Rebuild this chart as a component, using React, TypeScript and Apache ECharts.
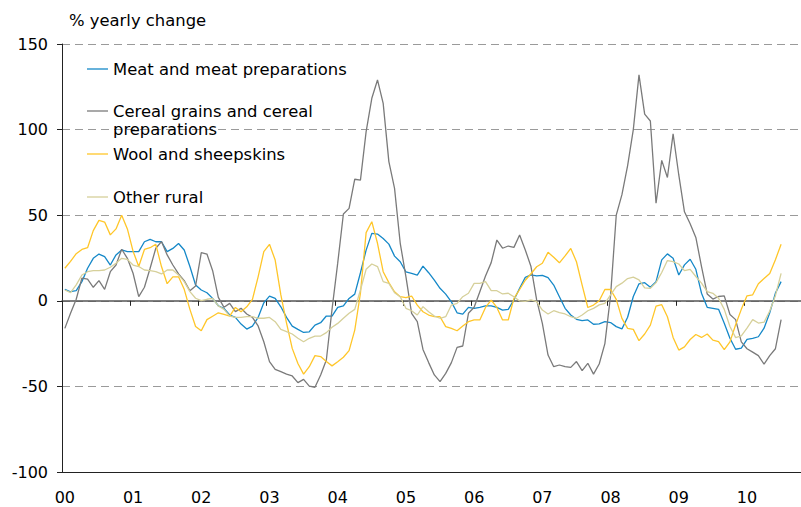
import React, { useEffect, useRef } from "react";
import * as echarts from "echarts";

// Monthly observations, Jan 2000 .. Jul 2010 (% yearly change)
const meat = [
  6.7, 5.3, 5.9, 11.2, 19, 24.8, 27.3, 25.8, 20.9, 26.8, 29.7, 28.7,
  28.7, 28.7, 34.5, 35.9, 34.5, 34.5, 28.7, 30.6, 33.5, 29.7, 20, 9.2,
  6.3, 4.7, 1.4, -2.9, -4.5, -8.3, -9.7, -13.6, -16.5, -14.8, -9.7, -1.2,
  2.7, 1.4, -3.5, -9.7, -14.8, -16.7, -18.5, -18.1, -14.2, -12.8, -8.9, -9,
  -3.8, -3.0, 1.4, 3.9, 16.4, 29.6, 39.4, 39.0, 36.4, 33.1, 26.1, 22.8,
  16.9, 16.0, 15.0, 20.3, 16.4, 12.1, 7.3, 3.9, -0.6, -7.0, -7.8, -3.8,
  -4.4, -3.8, -3.0, -3.0, -3.8, -5.4, -5.0, 0.5, 7.3, 13.7, 15.1, 14.5,
  14.9, 13.5, 9.2, 2.4, -4.4, -8.3, -10.8, -11.6, -11.2, -13.7, -13.5, -12.2,
  -12.7, -15.1, -16.4, -9.6, 2.5, 9.9, 10.6, 7.9, 11.2, 23.9, 27.4, 24.9,
  15.1, 21, 24.3, 18.4, 4.4, -3.8, -4.4, -5.0, -13.1, -21.9, -28.3, -27.7,
  -22.5, -22, -21, -16, -7, 4.5, 11.2,
];

const cereal = [
  -16.1, -7.3, 0.9, 13.2, 12.6, 7.9, 11.8, 6.7, 17, 20.9, 30.1, 24.8,
  16.1, 2.4, 7.9, 19, 30.7, 34.6, 26.8, 20.9, 15.7, 11.8, 5.9, 8.7,
  28.1, 27.3, 17.6, 2.0, -3.8, -1.5, -6.3, -4.4, -7.7, -9.7, -14.7, -23.9,
  -35.5, -40, -41.4, -42.8, -43.9, -47.8, -45.9, -49.8, -50.5, -43.3, -34.6, -5,
  22, 50.7, 54, 71, 70.5, 98.8, 118.3, 129, 115.3, 81.3, 65.7, 33.6,
  14.1, -7.3, -12.2, -28.4, -36.1, -43.3, -47.2, -42.4, -36.1, -27.2, -26.4, -7.3,
  -3.8, 5.3, 14.5, 22.3, 35.5, 30.7, 32, 31.2, 38.4, 29.7, 20, 0.5,
  -13.2, -31.7, -38.5, -37.5, -38.5, -38.9, -35.5, -40.8, -36.5, -42.8, -36.9, -25,
  3, 50, 62, 79, 100, 132, 109, 105, 57, 82, 72, 97.5,
  73.5, 52, 45, 37, 20, 4, 1, 2.5, 2.9, -8, -11, -24,
  -28, -30, -32, -37, -32, -28, -11,
];

const wool = [
  19, 23, 27.5, 30, 31, 41, 47, 46, 38.5, 42, 50, 42,
  29, 20, 30, 31, 33, 20, 10, 14, 14, 6.7, -5, -15,
  -17.5, -11, -9, -7, -8, -9, -3.9, -6.4, -3.5, 0.8, 14, 28.7,
  33, 23.8, 3.4, -13, -27.8, -36.6, -42.8, -38.5, -32, -32.6, -35.5, -38,
  -35.6, -33, -29.1, -17.1, 4.4, 39.8, 46.2, 33.6, 17, 10.6, 5.3, 2.4,
  1.8, 2.8, -2.5, -6.4, -8.3, -9.3, -9.3, -15.1, -16.1, -17.5, -14.7, -12.2,
  -11.2, -11.2, -3.9, 0.4, -3.9, -11.2, -11.2, 1.4, 6.6, 12, 15.8, 19.9,
  21.9, 28.3, 25.4, 22.2, 26.2, 30.6, 22.8, 9.2, -3.9, -2.5, 0, 6.6,
  6.6, 0.8, -10.3, -16.1, -16.7, -23.3, -19.4, -14.2, -3.1, -2.3, -9.3, -21.4,
  -28.8, -26.9, -22.6, -19.7, -21.4, -19.4, -23, -23.9, -28.5, -24, -14, -5,
  2.9, 3.5, 10, 13, 16, 24, 33,
];

const otherRural = [
  6.3, 4.8, 9.3, 15.1, 17, 17.6, 17.6, 18, 19.6, 21.9, 24.8, 24.2,
  20.9, 20, 18, 17.6, 17, 15.7, 18, 18, 15.1, 11.2, 5.4, 1.5,
  0.1, 0.9, 1.4, -3.0, -5.0, -8.9, -9.7, -9.7, -9.3, -9.3, -10.2, -10.2,
  -9.7, -12.2, -16.7, -18, -19.4, -21.9, -23.9, -21.9, -20.6, -20.6, -18.6, -15.5,
  -13.2, -10.2, -7.3, -5.0, 6.3, 18.4, 21.5, 20, 11.2, 10.2, 4.7, 2.4,
  -4.4, -5.8, -8.3, -3.4, -6.4, -8.9, -10.2, -9.3, -2.5, -1.5, 2.4, 4.4,
  10.2, 10.2, 11.2, 5.9, 5.9, 4.0, 4.4, 2.4, -0.1, -0.3, 0.5, -0.5,
  -5.4, -7.7, -5.8, -6.9, -7.7, -9.3, -10.2, -8.3, -5.8, -4.4, -2.4, -1.5,
  3.4, 8.3, 10.3, 13, 13.8, 12.2, 7.5, 7.3, 10.6, 16.5, 23.5, 22.9,
  21.5, 17.6, 18.4, 14.2, 10.3, 5.4, 4.4, 1.5, -5, -15, -21.5, -20.5,
  -16, -11, -13, -12.5, -6, 3, 16,
];

// axis: Jan 2000 .. Oct 2010 (monthly categories), labels every January
const startYear = 2000;
const monthCount = 130;
const months = Array.from({ length: monthCount }, (_, i) => {
  const y = startYear + Math.floor(i / 12);
  const m = (i % 12) + 1;
  return `${y}-${m < 10 ? "0" + m : m}`;
});

const seriesNames = [
  "Meat and meat preparations",
  "Cereal grains and cereal\npreparations",
  "Wool and sheepskins",
  "Other rural",
];
const seriesColors = ["#1588c8", "#7a7a7a", "#ffc629", "#d6d09a"];
const yTicks = { min: -100, max: 150, interval: 50 };

const FONT = "DejaVu Sans";

export default function App() {
  const ref = useRef<HTMLDivElement>(null);

  useEffect(() => {
    if (!ref.current) return;
    const chart = echarts.init(ref.current, null, { renderer: "svg" });
    const allData = [meat, cereal, wool, otherRural];
    const legendTops = [69, 111, 154, 197];

    const graphics: any[] = [];
    seriesNames.forEach((name, k) => {
      graphics.push({
        type: "line",
        shape: { x1: 87, y1: legendTops[k], x2: 108, y2: legendTops[k] },
        style: { stroke: seriesColors[k], lineWidth: 1.3 },
        z: 10,
      });
      graphics.push({
        type: "text",
        x: 113,
        y: legendTops[k] - 9,
        style: {
          text: name,
          font: `16.4px "${FONT}"`,
          fill: "#000",
          lineHeight: 18,
          textVerticalAlign: "top",
        },
        z: 10,
      });
    });

    chart.setOption({
      animation: false,
      textStyle: { fontFamily: FONT },
      title: {
        text: "% yearly change",
        left: 69,
        top: 12,
        padding: 0,
        textStyle: { fontSize: 16.4, fontWeight: "normal", color: "#000", fontFamily: FONT },
      },
      grid: { left: 62, right: 0, top: 44, bottom: 35, containLabel: false },
      xAxis: [
        {
          type: "category",
          data: months,
          boundaryGap: true,
          position: "bottom",
          axisLine: { onZero: false, lineStyle: { color: "#222", width: 1 } },
          axisTick: { show: false },
          axisLabel: {
            interval: (i: number) => i % 12 === 0,
            formatter: (v: string) => v.slice(2, 4),
            color: "#000",
            fontSize: 16,
            margin: 17,
            fontFamily: FONT,
          },
          splitLine: { show: false },
        },
        {
          type: "category",
          data: months,
          boundaryGap: true,
          position: "top",
          axisLine: { onZero: true, onZeroAxisIndex: 0, lineStyle: { color: "#555", width: 1.6 } },
          axisTick: {
            show: true,
            inside: true,
            length: 5,
            interval: (i: number) => i % 12 === 0,
            lineStyle: { color: "#222", width: 1 },
          },
          axisLabel: { show: false },
          splitLine: { show: false },
        },
      ],
      yAxis: {
        type: "value",
        min: yTicks.min,
        max: yTicks.max,
        interval: yTicks.interval,
        axisLine: { show: true, lineStyle: { color: "#222", width: 1 } },
        axisTick: { show: true, length: 5, lineStyle: { color: "#222" } },
        axisLabel: { color: "#000", fontSize: 16, margin: 14, fontFamily: FONT },
        splitLine: { show: true, lineStyle: { color: "#9a9a9a", type: [8, 5], width: 1 } },
      },
      series: allData.map((d, k) => ({
        name: seriesNames[k],
        type: "line",
        xAxisIndex: 0,
        data: d,
        showSymbol: false,
        symbol: "none",
        lineStyle: { color: seriesColors[k], width: 1.3 },
        itemStyle: { color: seriesColors[k] },
        z: 3 + k,
      })),
      graphic: graphics,
    });

    return () => chart.dispose();
  }, []);

  return (
    <div
      ref={ref}
      style={{ position: "fixed", left: 0, top: 0, width: 801, height: 507, background: "#fff" }}
    />
  );
}
